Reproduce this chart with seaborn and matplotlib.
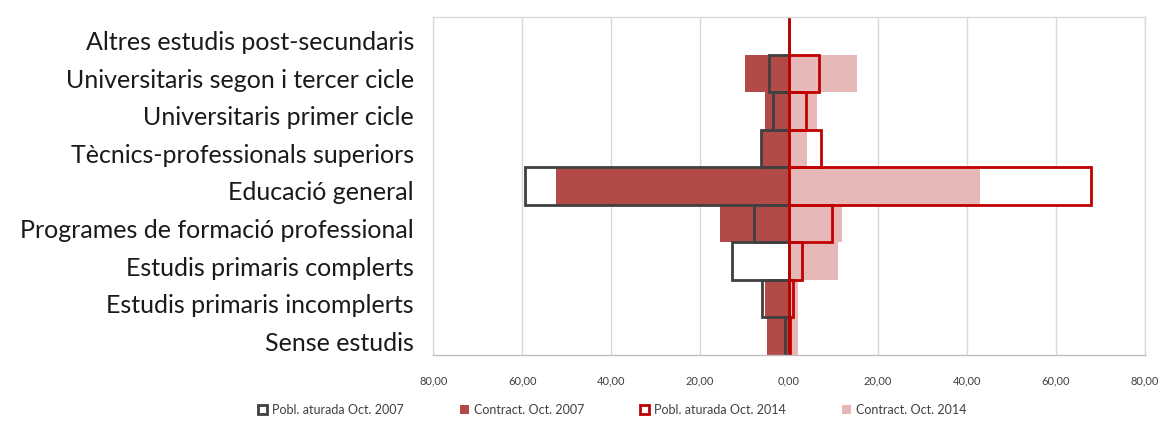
import pandas as pd
import matplotlib.pyplot as plt
import matplotlib.transforms as mtransforms
import seaborn as sns
from matplotlib.ticker import FuncFormatter

# Categories (top to bottom)
categories = [
    "Altres estudis post-secundaris",
    "Universitaris segon i tercer cicle",
    "Universitaris primer cicle",
    "Tècnics-professionals superiors",
    "Educació general",
    "Programes de formació professional",
    "Estudis primaris complerts",
    "Estudis primaris incomplerts",
    "Sense estudis",
]

# Percentages
pobl_2007 = [0.0, 4.5, 3.6, 6.3, 59.5, 7.8, 12.9, 6.1, 0.9]
contract_2007 = [0.0, 9.8, 5.4, 6.0, 52.4, 15.5, 0.0, 5.4, 5.0]
pobl_2014 = [0.1, 6.8, 3.8, 7.3, 67.9, 9.6, 2.9, 0.8, 0.3]
contract_2014 = [0.0, 15.3, 6.3, 4.1, 42.9, 12.0, 11.1, 2.0, 2.1]

tick_values = [-80, -60, -40, -20, 0, 20, 40, 60, 80]

df = pd.DataFrame({
    "cat": categories,
    "p07": [-v for v in pobl_2007],
    "c07": [-v for v in contract_2007],
    "p14": pobl_2014,
    "c14": contract_2014,
})

sns.set_style("white")
plt.rcParams["font.family"] = ["Lato", "DejaVu Sans"]

fig = plt.figure(figsize=(11.62, 4.25), dpi=100)
ax = fig.add_axes([0.373, 0.165, 0.612, 0.795])

dark = "#404040"
red = "#C00000"
c07_col = "#B24A48"
c14_col = "#E6B9B8"

# white background of the unemployed-population bars
sns.barplot(data=df, x="p07", y="cat", order=categories, color="white",
            width=1.0, errorbar=None, linewidth=0, ax=ax, orient="h")
sns.barplot(data=df, x="p14", y="cat", order=categories, color="white",
            width=1.0, errorbar=None, linewidth=0, ax=ax, orient="h")
# contracts
sns.barplot(data=df, x="c07", y="cat", order=categories, color=c07_col,
            saturation=1, width=1.0, errorbar=None, linewidth=0, ax=ax, orient="h")
sns.barplot(data=df, x="c14", y="cat", order=categories, color=c14_col,
            saturation=1, width=1.0, errorbar=None, linewidth=0, ax=ax, orient="h")
# unemployed-population outlines
sns.barplot(data=df, x="p07", y="cat", order=categories, color=dark, fill=False,
            saturation=1, width=1.0, errorbar=None, linewidth=2, ax=ax, orient="h")
sns.barplot(data=df, x="p14", y="cat", order=categories, color=red, fill=False,
            saturation=1, width=1.0, errorbar=None, linewidth=2, ax=ax, orient="h")

ax.set_xlim(-80, 80)
ax.set_ylim(len(categories) - 0.5, -0.5)
ax.set_xticks(tick_values)
ax.xaxis.set_major_formatter(FuncFormatter(lambda v, p: f"{abs(v):.2f}".replace(".", ",")))
ax.grid(axis="x", color="#D9D9D9", linewidth=1)
ax.set_axisbelow(True)
ax.set_xlabel("")
ax.set_ylabel("")
for s in ax.spines.values():
    s.set_color("#D9D9D9")
    s.set_linewidth(1)
ax.spines["bottom"].set_color("#BFBFBF")
ax.tick_params(axis="x", labelsize=8, colors="#BFBFBF", labelcolor="#404040",
               length=5, direction="out", pad=10)
ax.tick_params(axis="y", labelsize=18, length=0, pad=14, labelcolor="#1a1a1a")

# nudge category labels down a little, like the original
shift = mtransforms.ScaledTranslation(0, -5 / 100, fig.dpi_scale_trans)
for lab in ax.get_yticklabels():
    lab.set_transform(lab.get_transform() + shift)

handles = [
    plt.Rectangle((0, 0), 1, 1, facecolor="white", edgecolor=dark, linewidth=2),
    plt.Rectangle((0, 0), 1, 1, facecolor=c07_col, edgecolor="none"),
    plt.Rectangle((0, 0), 1, 1, facecolor="white", edgecolor=red, linewidth=2),
    plt.Rectangle((0, 0), 1, 1, facecolor=c14_col, edgecolor="none"),
]
labels = ["Pobl. aturada Oct. 2007", "Contract. Oct. 2007",
          "Pobl. aturada Oct. 2014", "Contract. Oct. 2014"]
fig.legend(handles, labels, loc="center", bbox_to_anchor=(0.527, 0.035), ncol=4,
           frameon=False, fontsize=9, handlelength=0.7, handleheight=0.7,
           columnspacing=4.5, handletextpad=0.4, labelcolor="#404040")

fig.savefig("out.png", dpi=100)
